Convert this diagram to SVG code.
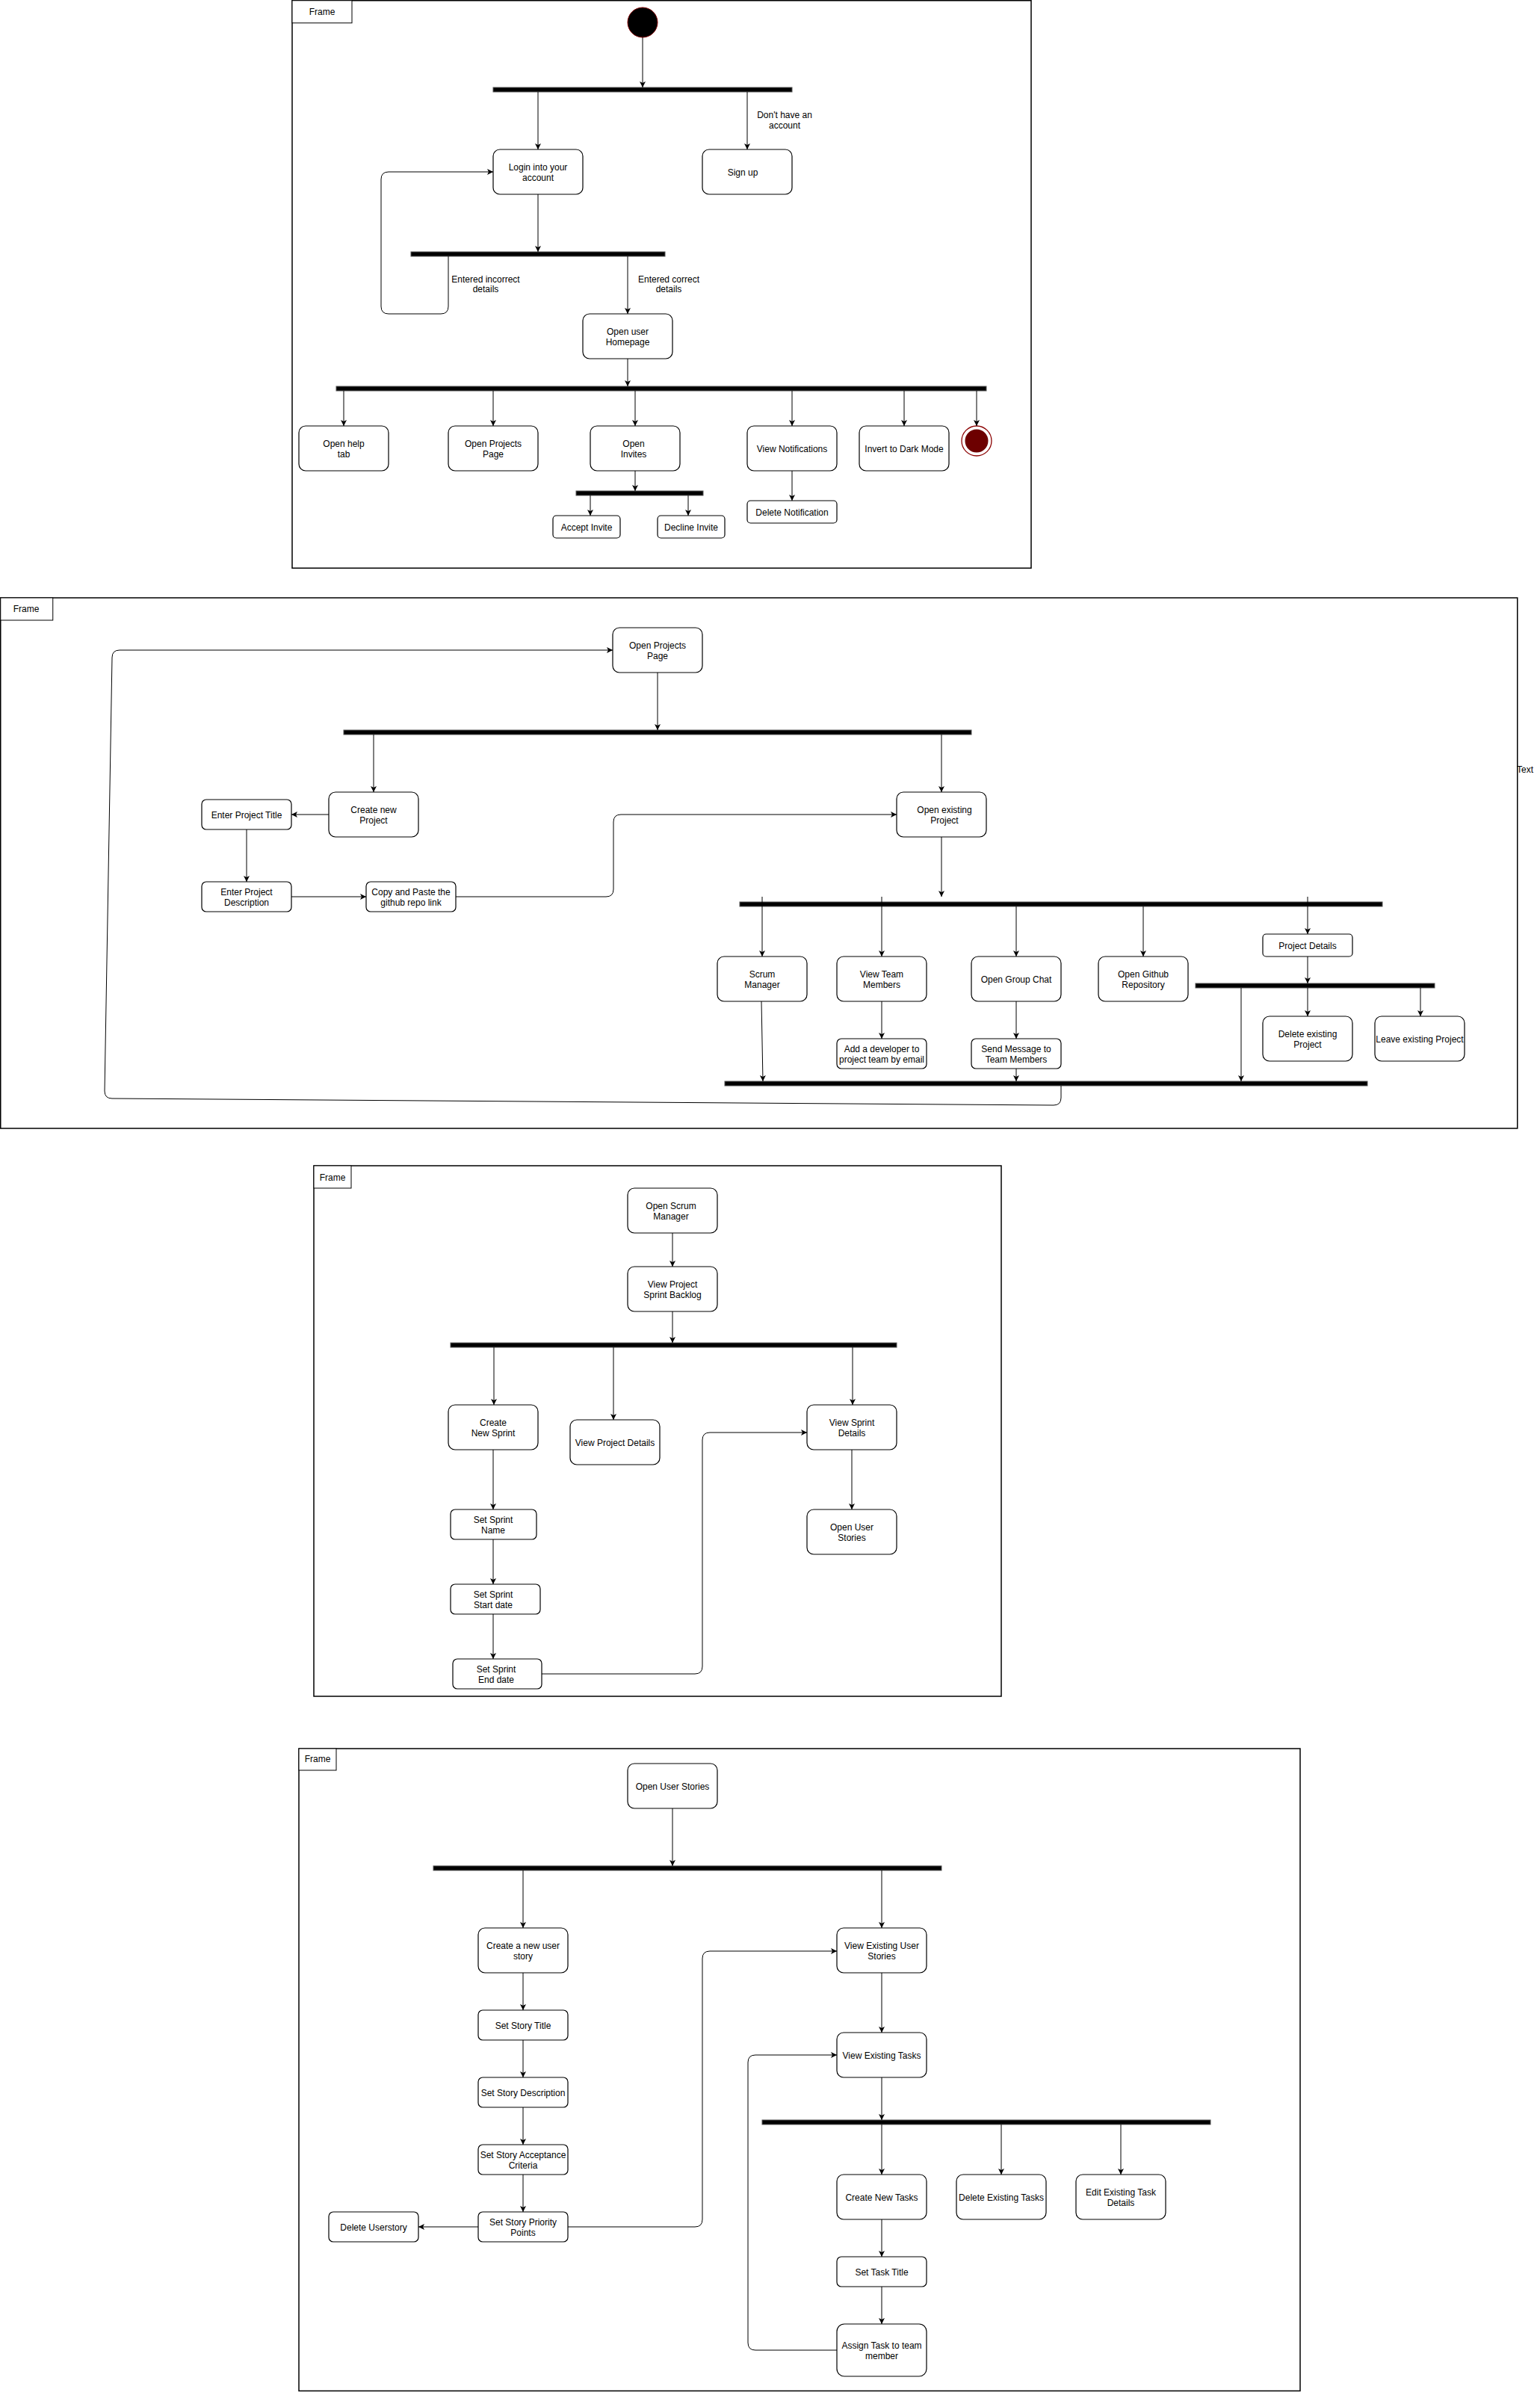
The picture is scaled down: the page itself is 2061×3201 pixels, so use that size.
<svg xmlns="http://www.w3.org/2000/svg" width="2061" height="3201" viewBox="0 0 2061 3201">
  <defs>
    <marker id="arr" markerWidth="10" markerHeight="10" refX="8" refY="4" orient="auto" markerUnits="userSpaceOnUse">
      <path d="M0,0 L8,4 L0,8 L2,4 z" fill="#000"/>
    </marker>
    <style>
      .frame{fill:none;stroke:#000;stroke-width:1.5}
      .flabel{fill:#fff;stroke:#000;stroke-width:1}
      .act{fill:#fff;stroke:#000;stroke-width:1.2}
      .bar{fill:#000;stroke:#555;stroke-width:1}
      .edge{fill:none;stroke:#000;stroke-width:1;marker-end:url(#arr)}
      .line{fill:none;stroke:#000;stroke-width:1}
      text{font-family:"Liberation Sans",Arial,Helvetica,sans-serif;font-size:12px;fill:#000;text-anchor:middle}
      .ls{text-anchor:start}
    </style>
  </defs>
  <rect width="2061" height="3201" fill="#fff"/>

  <!-- ========== Frame 1: login / homepage ========== -->
  <g id="frame1">
    <rect class="frame" x="391" y="0.75" width="989" height="759.5"/>
    <rect class="flabel" x="391" y="0.75" width="80" height="30"/>
    <text x="431" y="20">Frame</text>
  </g>
  <g id="f1-nodes">
    <g id="start"><circle cx="860" cy="30" r="20" fill="#000" stroke="#800000" stroke-width="1"/></g>
    <g id="bar1"><rect class="bar" x="660" y="117" width="400" height="6"/></g>
    <g id="login"><rect class="act" x="660" y="200" width="120" height="60" rx="9"/><text x="720" y="227.5">Login into your</text><text x="720" y="241.5">account</text></g>
    <g id="signup"><rect class="act" x="940" y="200" width="120" height="60" rx="9"/><text x="994" y="234.5">Sign up</text></g>
    <g id="bar2"><rect class="bar" x="550" y="337" width="340" height="6"/></g>
    <g id="homepage"><rect class="act" x="780" y="420" width="120" height="60" rx="9"/><text x="840" y="447.5">Open user</text><text x="840" y="461.5">Homepage</text></g>
    <g id="bar3"><rect class="bar" x="450" y="517" width="870" height="6"/></g>
    <g id="helptab"><rect class="act" x="400" y="570" width="120" height="60" rx="9"/><text x="460" y="597.5">Open help</text><text x="460" y="611.5">tab</text></g>
    <g id="projects1"><rect class="act" x="600" y="570" width="120" height="60" rx="9"/><text x="660" y="597.5">Open Projects</text><text x="660" y="611.5">Page</text></g>
    <g id="invites"><rect class="act" x="790" y="570" width="120" height="60" rx="9"/><text x="848" y="597.5">Open</text><text x="848" y="611.5">Invites</text></g>
    <g id="notifications"><rect class="act" x="1000" y="570" width="120" height="60" rx="9"/><text x="1060" y="604.5">View Notifications</text></g>
    <g id="darkmode"><rect class="act" x="1150" y="570" width="120" height="60" rx="9"/><text x="1210" y="604.5">Invert to Dark Mode</text></g>
    <g id="end"><circle cx="1307" cy="590" r="20" fill="#fff" stroke="#8b0000" stroke-width="1.3"/><circle cx="1307" cy="590" r="15.5" fill="#6d0000"/></g>
    <g id="bar4"><rect class="bar" x="771" y="657" width="170" height="6"/></g>
    <g id="accept"><rect class="act" x="740" y="690" width="90" height="30" rx="4.5"/><text x="785" y="710">Accept Invite</text></g>
    <g id="decline"><rect class="act" x="880" y="690" width="90" height="30" rx="4.5"/><text x="925" y="710">Decline Invite</text></g>
    <g id="delnotif"><rect class="act" x="1000" y="670" width="120" height="30" rx="4.5"/><text x="1060" y="690">Delete Notification</text></g>
  </g>
  <g id="f1-labels">
    <text x="1050" y="158">Don't have an</text><text x="1050" y="172">account</text>
    <text x="650" y="378">Entered incorrect</text><text x="650" y="391">details</text>
    <text x="895" y="378">Entered correct</text><text x="895" y="391">details</text>
  </g>
  <g id="f1-edges">
    <path class="edge" d="M860,50 V117"/>
    <path class="edge" d="M720,123 V200"/>
    <path class="edge" d="M1000,123 V200"/>
    <path class="edge" d="M720,260 V337"/>
    <path class="edge" d="M600,343 V410 Q600,420 590,420 H520 Q510,420 510,410 V240 Q510,230 520,230 H660"/>
    <path class="edge" d="M840,343 V420"/>
    <path class="edge" d="M840,480 V517"/>
    <path class="edge" d="M460,523 V570"/>
    <path class="edge" d="M660,523 V570"/>
    <path class="edge" d="M850,523 V570"/>
    <path class="edge" d="M1060,523 V570"/>
    <path class="edge" d="M1210,523 V570"/>
    <path class="edge" d="M1307,523 V570"/>
    <path class="edge" d="M850,630 V657"/>
    <path class="edge" d="M790,663 V690"/>
    <path class="edge" d="M921,663 V690"/>
    <path class="edge" d="M1060,630 V670"/>
  </g>

  <!-- ========== Frame 2: projects ========== -->
  <g id="frame2">
    <rect class="frame" x="0.75" y="800" width="2030" height="710"/>
    <rect class="flabel" x="0.75" y="800" width="70" height="30"/>
    <text x="35" y="819">Frame</text>
    <text class="ls" x="2030" y="1034">Text</text>
  </g>
  <g id="f2-nodes">
    <g id="projects2"><rect class="act" x="820" y="840" width="120" height="60" rx="9"/><text x="880" y="867.5">Open Projects</text><text x="880" y="881.5">Page</text></g>
    <g id="bar5"><rect class="bar" x="460" y="977" width="840" height="6"/></g>
    <g id="newproject"><rect class="act" x="440" y="1060" width="120" height="60" rx="9"/><text x="500" y="1087.5">Create new</text><text x="500" y="1101.5">Project</text></g>
    <g id="ptitle"><rect class="act" x="270" y="1070" width="120" height="40" rx="6"/><text x="330" y="1094.5">Enter Project Title</text></g>
    <g id="pdesc"><rect class="act" x="270" y="1180" width="120" height="40" rx="6"/><text x="330" y="1197.5">Enter Project</text><text x="330" y="1211.5">Description</text></g>
    <g id="repolink"><rect class="act" x="490" y="1180" width="120" height="40" rx="6"/><text x="550" y="1197.5">Copy and Paste the</text><text x="550" y="1211.5">github repo link</text></g>
    <g id="existing"><rect class="act" x="1200" y="1060" width="120" height="60" rx="9"/><text x="1264" y="1087.5">Open existing</text><text x="1264" y="1101.5">Project</text></g>
    <g id="bar6"><rect class="bar" x="990" y="1207" width="860" height="6"/></g>
    <g id="scrum"><rect class="act" x="960" y="1280" width="120" height="60" rx="9"/><text x="1020" y="1307.5">Scrum</text><text x="1020" y="1321.5">Manager</text></g>
    <g id="team"><rect class="act" x="1120" y="1280" width="120" height="60" rx="9"/><text x="1180" y="1307.5">View Team</text><text x="1180" y="1321.5">Members</text></g>
    <g id="chat"><rect class="act" x="1300" y="1280" width="120" height="60" rx="9"/><text x="1360" y="1314.5">Open Group Chat</text></g>
    <g id="github"><rect class="act" x="1470" y="1280" width="120" height="60" rx="9"/><text x="1530" y="1307.5">Open Github</text><text x="1530" y="1321.5">Repository</text></g>
    <g id="pdetails"><rect class="act" x="1690" y="1250" width="120" height="30" rx="4.5"/><text x="1750" y="1269.5">Project Details</text></g>
    <g id="bar7"><rect class="bar" x="1600" y="1316" width="320" height="6"/></g>
    <g id="delproject"><rect class="act" x="1690" y="1360" width="120" height="60" rx="9"/><text x="1750" y="1387.5">Delete existing</text><text x="1750" y="1401.5">Project</text></g>
    <g id="leaveproject"><rect class="act" x="1840" y="1360" width="120" height="60" rx="9"/><text x="1900" y="1394.5">Leave existing Project</text></g>
    <g id="adddev"><rect class="act" x="1120" y="1390" width="120" height="40" rx="6"/><text x="1180" y="1407.5">Add a developer to</text><text x="1180" y="1421.5">project team by email</text></g>
    <g id="sendmsg"><rect class="act" x="1300" y="1390" width="120" height="40" rx="6"/><text x="1360" y="1407.5">Send Message to</text><text x="1360" y="1421.5">Team Members</text></g>
    <g id="bar8"><rect class="bar" x="970" y="1447" width="860" height="6"/></g>
  </g>
  <g id="f2-edges">
    <path class="edge" d="M880,900 V977"/>
    <path class="edge" d="M500,983 V1060"/>
    <path class="edge" d="M440,1090 H390"/>
    <path class="edge" d="M330,1110 V1180"/>
    <path class="edge" d="M390,1200 H490"/>
    <path class="edge" d="M610,1200 H811 Q821,1200 821,1190 V1100 Q821,1090 831,1090 H1200"/>
    <path class="edge" d="M1260,983 V1060"/>
    <path class="edge" d="M1260,1120 V1200"/>
    <path class="edge" d="M1020,1200 V1280"/>
    <path class="edge" d="M1180,1200 V1280"/>
    <path class="edge" d="M1360,1213 V1280"/>
    <path class="edge" d="M1530,1213 V1280"/>
    <path class="edge" d="M1750,1200 V1250"/>
    <path class="edge" d="M1750,1280 V1316"/>
    <path class="edge" d="M1750,1322 V1360"/>
    <path class="edge" d="M1901,1322 V1360"/>
    <path class="edge" d="M1661,1322 V1447"/>
    <path class="edge" d="M1180,1340 V1390"/>
    <path class="edge" d="M1360,1340 V1390"/>
    <path class="edge" d="M1360,1430 V1447"/>
    <path class="edge" d="M1019,1340 L1021,1447"/>
    <path class="edge" d="M1420,1453 V1469 Q1420,1479 1410,1479 L150,1470 Q140,1470 140,1460 L150,880 Q150,870 160,870 H820"/>
  </g>

  <!-- ========== Frame 3: scrum manager ========== -->
  <g id="frame3">
    <rect class="frame" x="420" y="1560" width="920" height="710"/>
    <rect class="flabel" x="420" y="1560" width="50" height="30"/>
    <text x="445" y="1580">Frame</text>
  </g>
  <g id="f3-nodes">
    <g id="scrumopen"><rect class="act" x="840" y="1590" width="120" height="60" rx="9"/><text x="898" y="1617.5">Open Scrum</text><text x="898" y="1631.5">Manager</text></g>
    <g id="backlog"><rect class="act" x="840" y="1695" width="120" height="60" rx="9"/><text x="900" y="1722.5">View Project</text><text x="900" y="1736.5">Sprint Backlog</text></g>
    <g id="bar9"><rect class="bar" x="603" y="1797" width="597" height="6"/></g>
    <g id="newsprint"><rect class="act" x="600" y="1880" width="120" height="60" rx="9"/><text x="660" y="1907.5">Create</text><text x="660" y="1921.5">New Sprint</text></g>
    <g id="projdetails"><rect class="act" x="763" y="1900" width="120" height="60" rx="9"/><text x="823" y="1934.5">View Project Details</text></g>
    <g id="sprintdetails"><rect class="act" x="1080" y="1880" width="120" height="60" rx="9"/><text x="1140" y="1907.5">View Sprint</text><text x="1140" y="1921.5">Details</text></g>
    <g id="sprintname"><rect class="act" x="603" y="2020" width="115" height="40" rx="6"/><text x="660" y="2037.5">Set Sprint</text><text x="660" y="2051.5">Name</text></g>
    <g id="sprintstart"><rect class="act" x="603" y="2120" width="120" height="40" rx="6"/><text x="660" y="2137.5">Set Sprint</text><text x="660" y="2151.5">Start date</text></g>
    <g id="sprintend"><rect class="act" x="606" y="2220" width="119" height="40" rx="6"/><text x="664" y="2237.5">Set Sprint</text><text x="664" y="2251.5">End date</text></g>
    <g id="userstories1"><rect class="act" x="1080" y="2020" width="120" height="60" rx="9"/><text x="1140" y="2047.5">Open User</text><text x="1140" y="2061.5">Stories</text></g>
  </g>
  <g id="f3-edges">
    <path class="edge" d="M900,1650 V1695"/>
    <path class="edge" d="M900,1755 V1797"/>
    <path class="edge" d="M661,1803 V1880"/>
    <path class="edge" d="M821,1803 V1900"/>
    <path class="edge" d="M1141,1803 V1880"/>
    <path class="edge" d="M660,1940 V2020"/>
    <path class="edge" d="M660,2060 V2120"/>
    <path class="edge" d="M660,2160 V2220"/>
    <path class="edge" d="M725,2240 H930 Q940,2240 940,2230 V1927 Q940,1917 950,1917 H1080"/>
    <path class="edge" d="M1140,1940 V2020"/>
  </g>

  <!-- ========== Frame 4: user stories and tasks ========== -->
  <g id="frame4">
    <rect class="frame" x="400" y="2340" width="1340" height="859.5"/>
    <rect class="flabel" x="400" y="2340" width="50" height="29"/>
    <text x="425" y="2358">Frame</text>
  </g>
  <g id="f4-nodes">
    <g id="userstories2"><rect class="act" x="840" y="2360" width="120" height="60" rx="9"/><text x="900" y="2394.5">Open User Stories</text></g>
    <g id="bar10"><rect class="bar" x="580" y="2497" width="680" height="6"/></g>
    <g id="newstory"><rect class="act" x="640" y="2580" width="120" height="60" rx="9"/><text x="700" y="2607.5">Create a new user</text><text x="700" y="2621.5">story</text></g>
    <g id="viewstories"><rect class="act" x="1120" y="2580" width="120" height="60" rx="9"/><text x="1180" y="2607.5">View Existing User</text><text x="1180" y="2621.5">Stories</text></g>
    <g id="storytitle"><rect class="act" x="640" y="2690" width="120" height="40" rx="6"/><text x="700" y="2714.5">Set Story Title</text></g>
    <g id="storydesc"><rect class="act" x="640" y="2780" width="120" height="40" rx="6"/><text x="700" y="2804.5">Set Story Description</text></g>
    <g id="storycriteria"><rect class="act" x="640" y="2870" width="120" height="40" rx="6"/><text x="700" y="2887.5">Set Story Acceptance</text><text x="700" y="2901.5">Criteria</text></g>
    <g id="storypoints"><rect class="act" x="640" y="2960" width="120" height="40" rx="6"/><text x="700" y="2977.5">Set Story Priority</text><text x="700" y="2991.5">Points</text></g>
    <g id="delstory"><rect class="act" x="440" y="2960" width="120" height="40" rx="6"/><text x="500" y="2984.5">Delete Userstory</text></g>
    <g id="viewtasks"><rect class="act" x="1120" y="2720" width="120" height="60" rx="9"/><text x="1180" y="2754.5">View Existing Tasks</text></g>
    <g id="bar11"><rect class="bar" x="1020" y="2837" width="600" height="6"/></g>
    <g id="newtasks"><rect class="act" x="1120" y="2910" width="120" height="60" rx="9"/><text x="1180" y="2944.5">Create New Tasks</text></g>
    <g id="deltasks"><rect class="act" x="1280" y="2910" width="120" height="60" rx="9"/><text x="1340" y="2944.5">Delete Existing Tasks</text></g>
    <g id="edittasks"><rect class="act" x="1440" y="2910" width="120" height="60" rx="9"/><text x="1500" y="2937.5">Edit Existing Task</text><text x="1500" y="2951.5">Details</text></g>
    <g id="tasktitle"><rect class="act" x="1120" y="3020" width="120" height="40" rx="6"/><text x="1180" y="3044.5">Set Task Title</text></g>
    <g id="assign"><rect class="act" x="1120" y="3110" width="120" height="70" rx="10"/><text x="1180" y="3142.5">Assign Task to team</text><text x="1180" y="3156.5">member</text></g>
  </g>
  <g id="f4-edges">
    <path class="edge" d="M900,2420 V2497"/>
    <path class="edge" d="M700,2503 V2580"/>
    <path class="edge" d="M1180,2503 V2580"/>
    <path class="edge" d="M700,2640 V2690"/>
    <path class="edge" d="M700,2730 V2780"/>
    <path class="edge" d="M700,2820 V2870"/>
    <path class="edge" d="M700,2910 V2960"/>
    <path class="edge" d="M640,2980 H560"/>
    <path class="edge" d="M760,2980 H930 Q940,2980 940,2970 V2621 Q940,2611 950,2611 H1120"/>
    <path class="edge" d="M1180,2640 V2720"/>
    <path class="edge" d="M1180,2780 V2837"/>
    <path class="edge" d="M1180,2843 V2910"/>
    <path class="edge" d="M1340,2843 V2910"/>
    <path class="edge" d="M1500,2843 V2910"/>
    <path class="edge" d="M1180,2970 V3020"/>
    <path class="edge" d="M1180,3060 V3110"/>
    <path class="edge" d="M1120,3145 H1011 Q1001,3145 1001,3135 V2760 Q1001,2750 1011,2750 H1120"/>
  </g>
</svg>
